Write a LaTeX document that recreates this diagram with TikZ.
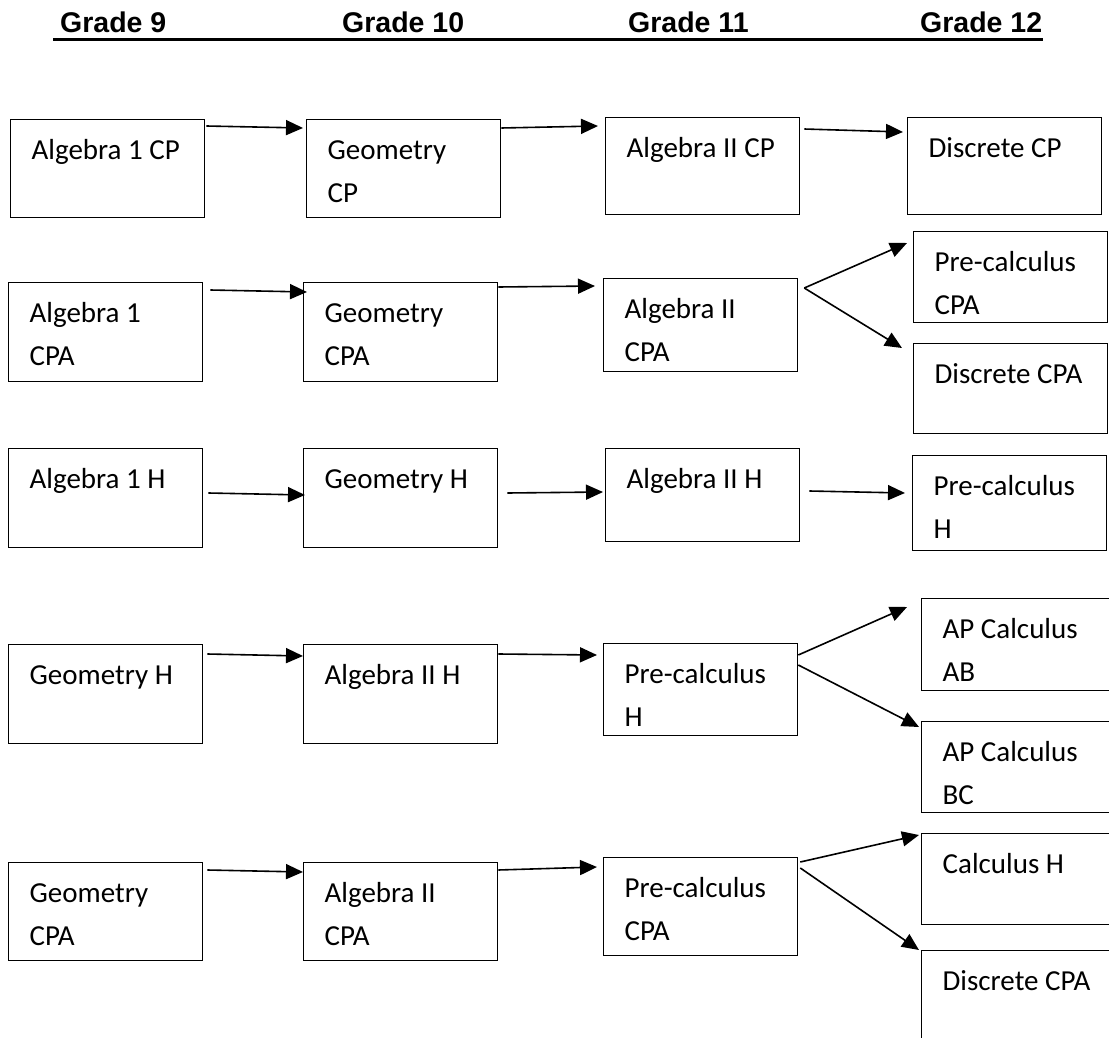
\documentclass[tikz,border=0pt]{standalone}
\usepackage{fontspec}
\setmainfont{Carlito}
\newfontfamily\headfont{Liberation Sans}
\usetikzlibrary{arrows.meta}

\tikzset{
	box/.style={draw, line width=1.3pt, rectangle, anchor=north west, minimum width=194, text width=152,
		inner xsep=21, inner ysep=0, align=flush left, text height=40, text depth=#1-40,
		font=\fontsize{29}{43}\selectfont},
	box/.default=98,
	link/.style={-{Triangle[length=17pt,width=15pt]}, line width=1.6pt},
	head/.style={anchor=base west, inner sep=0, font=\headfont\bfseries\fontsize{28.5}{30}\selectfont}
}

\begin{document}
\begin{tikzpicture}[x=1pt,y=-1pt]
	\useasboundingbox (0,0) rectangle (1109,1038);
	\clip (0,0) rectangle (1109,1038);

	% grade headings
	\node[head] (g9) at (60,33) {Grade 9};
	\node[head] (g10) at (342,33) {Grade 10};
	\node[head] (g11) at (628,33) {Grade 11};
	\node[head] (g12) at (920,33) {Grade 12};
	\draw[line width=3pt] (53,39.5) -- (1043,39.5);

	% row 1
	\node[box] (alga) at (10,119) {Algebra 1 CP};
	\node[box] (geoa) at (306,119) {Geometry\\CP};
	\node[box=97] (algiia) at (605,117) {Algebra II CP};
	\node[box=97] (disca) at (907,117) {Discrete CP};

	% row 2
	\node[box=99] (algb) at (8,282) {Algebra 1\\CPA};
	\node[box=99] (geob) at (303,282) {Geometry\\CPA};
	\node[box=93] (algiib) at (603,278) {Algebra II\\CPA};
	\node[box=91] (preb) at (913,231) {Pre-calculus\\CPA};
	\node[box=90] (discb) at (913,343) {Discrete CPA};

	% row 3
	\node[box=99] (algc) at (8,448) {Algebra 1 H};
	\node[box=99] (geoc) at (303,448) {Geometry H};
	\node[box=93] (algiic) at (605,448) {Algebra II H};
	\node[box=95] (prec) at (912,455) {Pre-calculus\\H};

	% row 4
	\node[box=99] (geod) at (8,644) {Geometry H};
	\node[box=99] (algiid) at (303,644) {Algebra II H};
	\node[box=92] (pred) at (603,643) {Pre-calculus\\H};
	\node[box=92] (apab) at (921,598) {AP Calculus\\AB};
	\node[box=91] (apbc) at (921,721) {AP Calculus\\BC};

	% row 5
	\node[box] (geoe) at (8,862) {Geometry\\CPA};
	\node[box] (algiie) at (303,862) {Algebra II\\CPA};
	\node[box] (pree) at (603,857) {Pre-calculus\\CPA};
	\node[box=91] (calch) at (921,833) {Calculus H};
	\node[box=120] (disce) at (921,950) {Discrete CPA};

	% arrows row 1
	\draw[link] ([xshift=1,yshift=-7]alga.north east) -- ([xshift=-3,yshift=-9]geoa.north west);
	\draw[link] ([yshift=-9]geoa.north east) -- ([xshift=-7,yshift=-9]algiia.north west);
	\draw[link] ([xshift=4,yshift=-12]algiia.north east) -- ([xshift=-4,yshift=-15]disca.north west);

	% arrows row 2
	\draw[link] ([xshift=7,yshift=-8]algb.north east) -- ([xshift=4,yshift=-10]geob.north west);
	\draw[link] ([yshift=-5]geob.north east) -- ([xshift=-8,yshift=-8]algiib.north west);
	\coordinate (forkb) at ([xshift=6,yshift=-10]algiib.north east);
	\draw[link] (forkb) -- ([xshift=-6,yshift=-12]preb.north west);
	\draw[link] (forkb) -- ([xshift=-11,yshift=-5]discb.north west);

	% arrows row 3
	\draw[link] ([xshift=5,yshift=-45]algc.north east) -- ([xshift=2,yshift=-47]geoc.north west);
	\draw[link] ([xshift=9,yshift=-45]geoc.north east) -- ([xshift=-2,yshift=-44]algiic.north west);
	\draw[link] ([xshift=9,yshift=-43]algiic.north east) -- ([xshift=-7,yshift=-38]prec.north west);

	% arrows row 4
	\draw[link] ([xshift=4,yshift=-10]geod.north east) -- ([yshift=-12]algiid.north west);
	\draw[link] ([yshift=-10]algiid.north east) -- ([xshift=-6,yshift=-12]pred.north west);
	\draw[link] ([yshift=-12]pred.north east) -- ([xshift=-14,yshift=-9]apab.north west);
	\draw[link] ([yshift=-22]pred.north east) -- ([xshift=-2,yshift=-6]apbc.north west);

	% arrows row 5
	\draw[link] ([xshift=4,yshift=-8]geoe.north east) -- ([yshift=-10]algiie.north west);
	\draw[link] ([yshift=-8]algiie.north east) -- ([xshift=-6,yshift=-10]pree.north west);
	\draw[link] ([xshift=2,yshift=-5]pree.north east) -- ([xshift=-2,yshift=-2]calch.north west);
	\draw[link] ([xshift=2,yshift=-11]pree.north east) -- ([xshift=-2]disce.north west);
\end{tikzpicture}
\end{document}
